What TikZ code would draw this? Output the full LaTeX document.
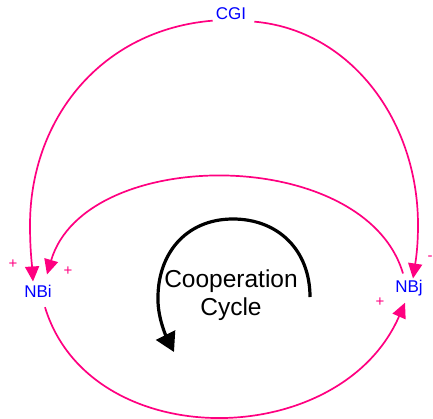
\documentclass[tikz,border=0pt]{standalone}
\usepackage{fontspec}
\setmainfont{Liberation Sans}
\usetikzlibrary{arrows.meta}
\definecolor{cpink}{RGB}{255,0,128}
\definecolor{cblue}{RGB}{0,0,255}
\begin{document}
\begin{tikzpicture}[x=1pt,y=-1pt,
  var/.style={text=cblue, font=\fontsize{17}{20}\selectfont, inner sep=2pt, anchor=base},
  sign/.style={text=cpink, font=\fontsize{15}{17}\selectfont, inner sep=0pt},
  link/.style={draw=cpink, line width=1.7pt, -{Triangle[length=15pt,width=14pt]}},
  loopar/.style={draw=black, line width=3.2pt, -{Triangle[length=19pt,width=21pt]}}]
\useasboundingbox (0,0) rectangle (433,418);
\node[var] (CGI) at (231,19) {CGI};
\node[var] (NBi) at (38,297) {NBi};
\node[var] (NBj) at (409,292) {NBj};
\node[align=center, font=\fontsize{24.5}{28}\selectfont, inner sep=0pt] (cyc) at (231,295) {Cooperation\\Cycle};
\draw[link] ([xshift=-1pt,yshift=-7.5pt]CGI.west) .. controls (100,30) and (30,120) .. (30,225) .. controls (30,250) and (32,265) .. ([xshift=-5pt,yshift=1pt]NBi.north);
\draw[link] ([xshift=6pt,yshift=-8.5pt]CGI.east) .. controls (350,30) and (418,120) .. (418,225) .. controls (418,250) and (415,265) .. ([xshift=4pt,yshift=-1pt]NBj.north);
\draw[link] ([xshift=-6pt,yshift=4pt]NBj.north) .. controls (365,145) and (85,145) .. ([xshift=9pt,yshift=8pt]NBi.north);
\draw[link] ([xshift=7pt,yshift=-8pt]NBi.south) .. controls (90,455) and (340,452) .. ([xshift=-4pt,yshift=-5pt]NBj.south);
\draw[loopar] (310,297) .. controls (310,250) and (278,219) .. (233,219) .. controls (185,219) and (157,255) .. (158,300) .. controls (158,318) and (166,336) .. (174,352);
\node[sign] (s1) at (13,264) {+};
\node[sign] (s2) at (68,271) {+};
\node[sign] (s3) at (430,258) {-};
\node[sign] (s4) at (380,302) {+};
\end{tikzpicture}
\end{document}
